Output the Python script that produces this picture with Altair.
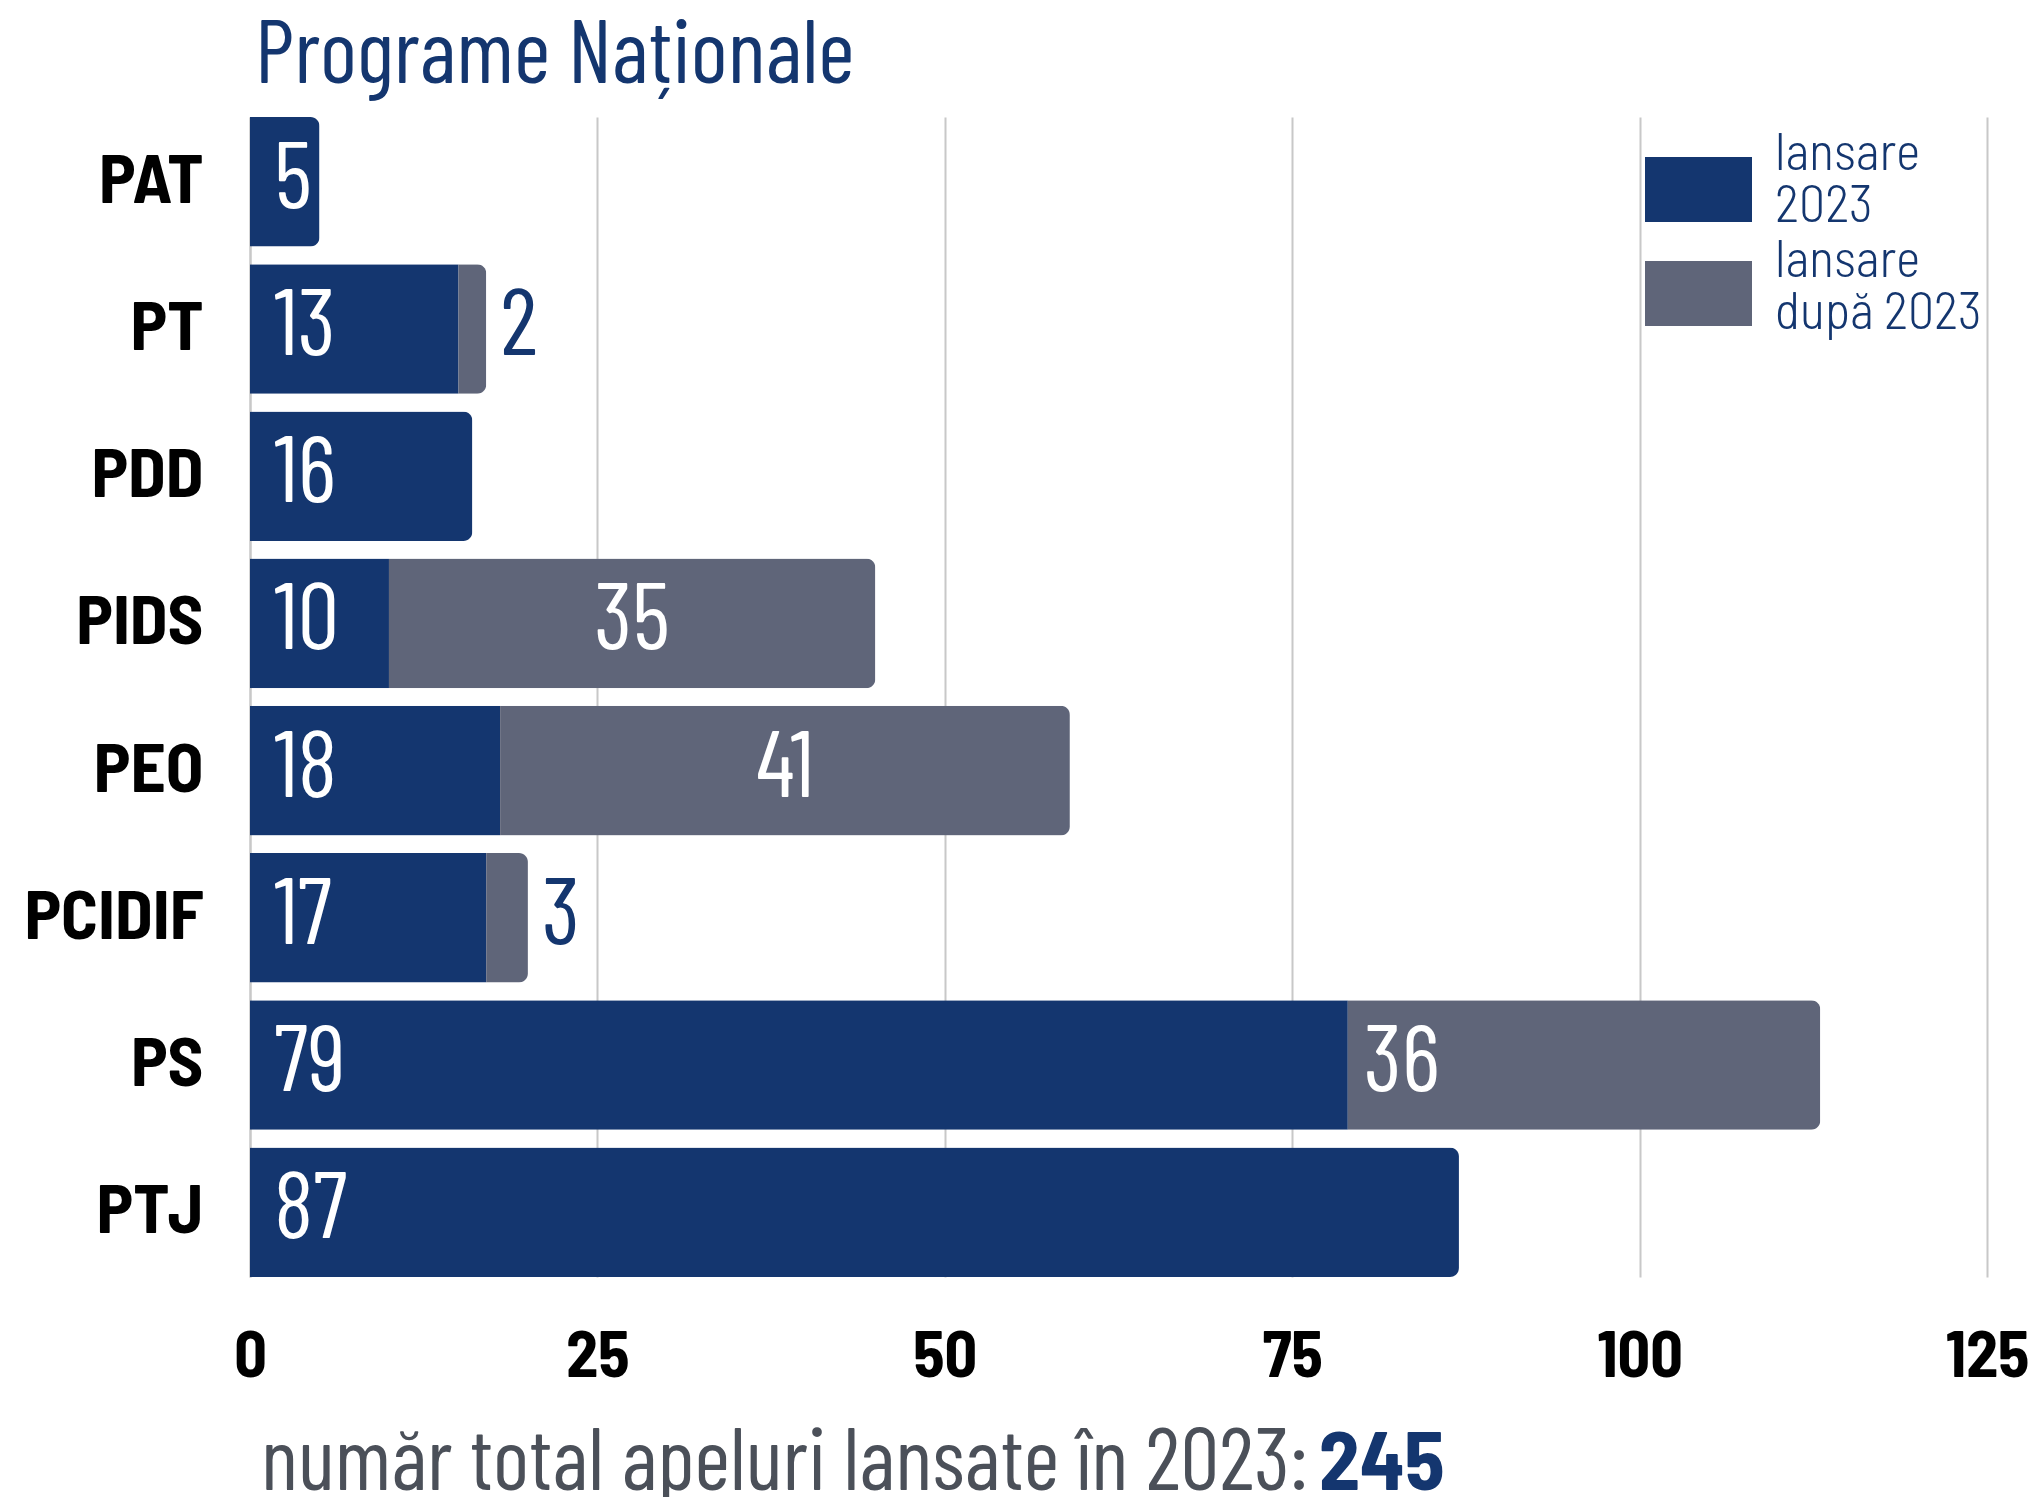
import altair as alt
import pandas as pd

# ---- data ----
programs = ["PAT", "PT", "PDD", "PIDS", "PEO", "PCIDIF", "PS", "PTJ"]
len_2023 = [5, 15, 16, 10, 18, 17, 79, 87]        # drawn bar lengths (dark)
len_after = [0, 2, 0, 35, 41, 3, 34, 0]           # drawn bar lengths (grey)
label_2023 = [5, 13, 16, 10, 18, 17, 79, 87]      # printed labels (dark)
label_after = [None, 2, None, 35, 41, 3, 36, None]  # printed labels (grey)
label_place = ["", "out", "", "mid", "mid", "out", "in", ""]
series = ["lansare 2023", "lansare după 2023"]
legend_lines = [["lansare", "2023"], ["lansare", "după 2023"]]
colors = ["#14366F", "#5F6579"]
x_ticks = [0, 25, 50, 75, 100, 125]
title_text = "Programe Naționale"
footer_text = "număr total apeluri lansate în 2023:"
footer_total = str(sum(label_2023))

FONT = "Barlow Condensed, Roboto Condensed, sans-serif"
FONT_SC = "Barlow Semi Condensed, Barlow Condensed, sans-serif"
BLUE = colors[0]
GRID = "#c8c8c8"

rows = []
for i, p in enumerate(programs):
    if len_2023[i] > 0:
        rows.append({"program": p, "series": series[0], "value": len_2023[i], "ord": 0})
    if len_after[i] > 0:
        rows.append({"program": p, "series": series[1], "value": len_after[i], "ord": 1})
bar_df = pd.DataFrame(rows)

lab_df = pd.DataFrame({
    "program": programs,
    "dark": len_2023,
    "grey": len_after,
    "lab1": [str(v) for v in label_2023],
    "lab2": ["" if v is None else str(v) for v in label_after],
    "place": label_place,
})
lab_df["zero"] = 0
lab_df["mid"] = lab_df["dark"] + lab_df["grey"] / 2
lab_df["end"] = lab_df["dark"] + lab_df["grey"]

W, H = 1737, 1160
xscale = alt.Scale(domain=[0, 125], nice=False, zero=True)
yscale = alt.Scale(paddingInner=0.12, paddingOuter=0)

y_enc = alt.Y("program:N", sort=programs, scale=yscale,
              axis=alt.Axis(title=None, labelFont=FONT_SC, labelFontSize=69,
                            labelFontWeight="bold", labelColor="black",
                            ticks=False, labelPadding=47, domainColor=GRID,
                            domainWidth=2, grid=False, labelLimit=500))

bars = alt.Chart(bar_df).mark_bar(cornerRadiusEnd=9).encode(
    y=y_enc,
    x=alt.X("value:Q", stack="zero", scale=xscale,
            axis=alt.Axis(title=None, values=x_ticks, labelFont=FONT_SC,
                          labelFontSize=64, labelFontWeight="bold",
                          labelColor="black", ticks=False, domain=False,
                          gridColor=GRID, gridWidth=2, labelPadding=48,
                          labelFlush=False, labelOverlap=False)),
    color=alt.Color("series:N", scale=alt.Scale(domain=series, range=colors),
                    legend=None),
    order=alt.Order("ord:Q"),
)

ybase = alt.Y("program:N", sort=programs, scale=yscale)
TXT = dict(baseline="alphabetic", dy=26, font=FONT, fontSize=93, fontWeight=400)

lab_dark = alt.Chart(lab_df).mark_text(align="left", dx=24, color="white", **TXT).encode(
    y=ybase, x=alt.X("zero:Q", scale=xscale), text="lab1:N")

lab_mid = alt.Chart(lab_df).transform_filter(alt.datum.place == "mid").mark_text(
    align="center", color="white", **TXT).encode(
    y=ybase, x=alt.X("mid:Q", scale=xscale), text="lab2:N")

lab_in = alt.Chart(lab_df).transform_filter(alt.datum.place == "in").mark_text(
    align="left", dx=16, color="white", **TXT).encode(
    y=ybase, x=alt.X("dark:Q", scale=xscale), text="lab2:N")

lab_out = alt.Chart(lab_df).transform_filter(alt.datum.place == "out").mark_text(
    align="left", dx=14, color=BLUE, **TXT).encode(
    y=ybase, x=alt.X("end:Q", scale=xscale), text="lab2:N")

# ---- legend (top right) ----
leg_layers = []
sw_top = [40, 144]
txt_base = [53, 160]
for i in range(2):
    leg_layers.append(alt.Chart(pd.DataFrame({"s": [series[i]]})).mark_rect(
        color=colors[i]).encode(
        x=alt.value(1395), x2=alt.value(1502),
        y=alt.value(sw_top[i]), y2=alt.value(sw_top[i] + 65)))
    leg_layers.append(alt.Chart(pd.DataFrame({"s": [series[i]]})).mark_text(
        text=legend_lines[i], align="left", baseline="alphabetic", lineHeight=52,
        font=FONT_SC, fontSize=52, fontWeight=300, color=BLUE).encode(
        x=alt.value(1525), y=alt.value(txt_base[i])))

title = alt.Chart(pd.DataFrame({"t": [title_text]})).mark_text(
    align="left", baseline="alphabetic", font=FONT, fontSize=89,
    fontWeight=400, color=BLUE).encode(
    x=alt.value(5), y=alt.value(-34), text="t:N")

footer = alt.Chart(pd.DataFrame({"t": [footer_text]})).mark_text(
    align="right", baseline="alphabetic", font=FONT, fontSize=87,
    fontWeight=400, color="#4B5059").encode(
    x=alt.value(1058), y=alt.value(1373), text="t:N")

footer_num = alt.Chart(pd.DataFrame({"t": [footer_total]})).mark_text(
    align="left", baseline="alphabetic", font=FONT_SC, fontSize=82,
    fontWeight="bold", color=BLUE).encode(
    x=alt.value(1069), y=alt.value(1373), text="t:N")

chart = alt.layer(bars, lab_dark, lab_mid, lab_in, lab_out, *leg_layers, title,
                  footer, footer_num).properties(
    width=W, height=H,
    padding={"left": 242, "top": 109, "right": 41, "bottom": 220},
    autosize=alt.AutoSizeParams(type="none"),
    background="white",
).configure_view(stroke=None)

chart.save("out.html", embed_options={"renderer": "svg", "actions": False})
